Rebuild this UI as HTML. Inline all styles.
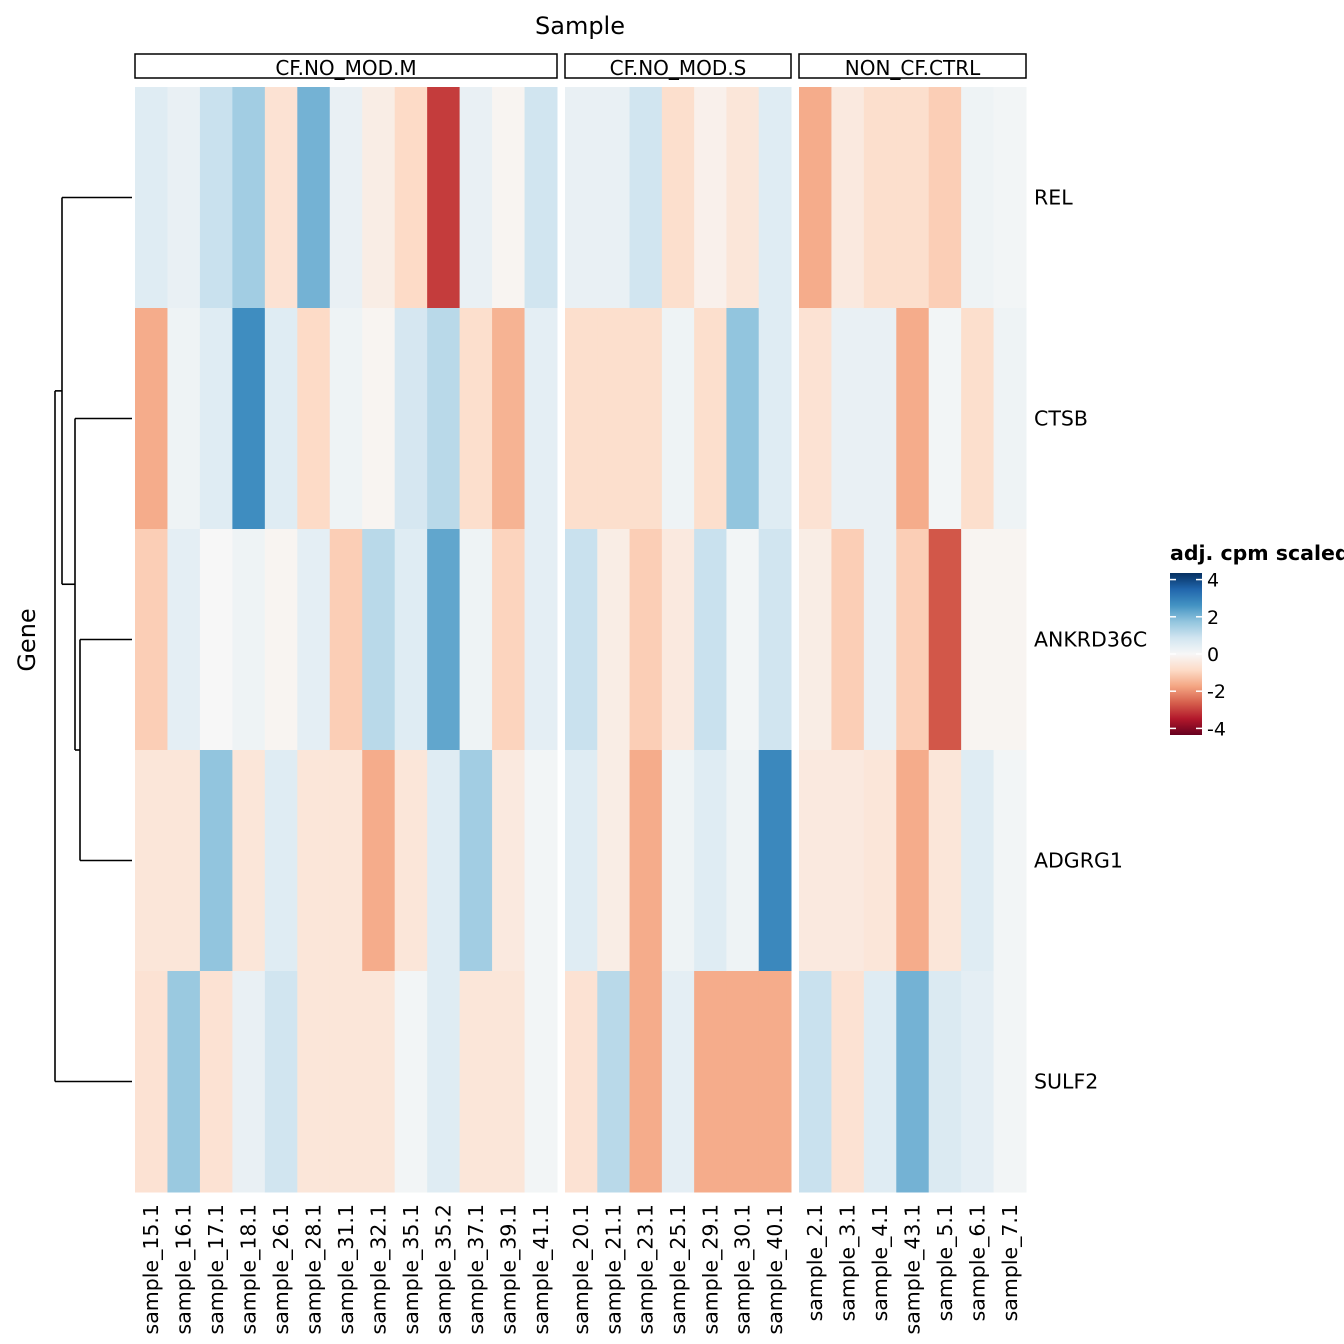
<!DOCTYPE html>
<html><head><meta charset="utf-8"><style>
html,body{margin:0;padding:0;background:#fff;}
svg{display:block;font-family:"DejaVu Sans","Liberation Sans",sans-serif;}
</style></head><body>
<svg id="c" width="1344" height="1344" viewBox="0 0 1344 1344">
<defs><linearGradient id="lg" x1="0" y1="1" x2="0" y2="0">
<stop offset="0" stop-color="#67001f"/><stop offset="0.1" stop-color="#b2182b"/><stop offset="0.2" stop-color="#d6604d"/><stop offset="0.3" stop-color="#f4a582"/><stop offset="0.4" stop-color="#fddbc7"/><stop offset="0.5" stop-color="#f7f7f7"/><stop offset="0.6" stop-color="#d1e5f0"/><stop offset="0.7" stop-color="#92c5de"/><stop offset="0.8" stop-color="#4393c3"/><stop offset="0.9" stop-color="#2166ac"/><stop offset="1" stop-color="#053061"/></linearGradient></defs>
<text x="580" y="34" font-size="24" text-anchor="middle">Sample</text>
<text x="35" y="640" font-size="24" text-anchor="middle" transform="rotate(-90 35 640)">Gene</text>
</svg>
<script>
const groups=["CF.NO_MOD.M","CF.NO_MOD.S","NON_CF.CTRL"];
const groupLabels=["CF.NO_MOD.M","CF.NO_MOD.S","NON_CF.CTRL"];
const samplesM=["sample_15.1","sample_16.1","sample_17.1","sample_18.1","sample_26.1","sample_28.1","sample_31.1","sample_32.1","sample_35.1","sample_35.2","sample_37.1","sample_39.1","sample_41.1"];
const samplesS=["sample_20.1","sample_21.1","sample_23.1","sample_25.1","sample_29.1","sample_30.1","sample_40.1"];
const samplesC=["sample_2.1","sample_3.1","sample_4.1","sample_43.1","sample_5.1","sample_6.1","sample_7.1"];
const genes=["REL","CTSB","ANKRD36C","ADGRG1","SULF2"];
const valuesM=[
[0.5,0.3,0.9,1.4,-0.6,1.9,0.3,-0.3,-0.8,-2.8,0.3,-0.1,0.8],
[-1.5,0.2,0.5,2.5,0.5,-0.8,0.2,-0.1,0.7,1.1,-0.7,-1.4,0.4],
[-1.0,0.4,0.0,0.2,-0.1,0.4,-1.0,1.1,0.5,2.1,0.2,-0.9,0.4],
[-0.5,-0.5,1.6,-0.5,0.5,-0.5,-0.5,-1.5,-0.5,0.5,1.4,-0.4,0.1],
[-0.6,1.5,-0.6,0.3,0.8,-0.5,-0.5,-0.5,0.1,0.5,-0.5,-0.5,0.1]];
const valuesS=[
[0.3,0.3,0.8,-0.7,-0.2,-0.5,0.5],
[-0.7,-0.7,-0.7,0.2,-0.7,1.6,0.5],
[0.9,-0.3,-1.0,-0.4,0.9,0.1,0.8],
[0.5,-0.3,-1.5,0.2,0.5,0.2,2.6],
[-0.6,1.1,-1.5,0.4,-1.5,-1.5,-1.5]];
const valuesC=[
[-1.5,-0.4,-0.7,-0.7,-1.0,0.2,0.1],
[-0.6,0.3,0.3,-1.5,0.1,-0.7,0.2],
[-0.3,-1.0,0.3,-1.0,-2.5,-0.1,-0.1],
[-0.4,-0.4,-0.5,-1.5,-0.5,0.5,0.1],
[0.9,-0.6,0.5,1.9,0.6,0.4,0.1]];
const legendTicks=[4,2,0,-2,-4];

const svg=document.getElementById('c');
const NS="http://www.w3.org/2000/svg";
function mk(t,a,txt){const e=document.createElementNS(NS,t);for(const k in a)e.setAttribute(k,a[k]);if(txt!=null)e.textContent=txt;svg.appendChild(e);return e;}
const stops=[[103,0,31],[178,24,43],[214,96,77],[244,165,130],[253,219,199],[247,247,247],[209,229,240],[146,197,222],[67,147,195],[33,102,172],[5,48,97]];
function color(v){let t=(Math.max(-4,Math.min(4,v))+4)/8*10;let i=Math.min(9,Math.floor(t));let f=t-i;const a=stops[i],b=stops[i+1];return`rgb(${a.map((x,j)=>Math.round(x+(b[j]-x)*f)).join(',')})`;}
const panels=[{x0:135,x1:557,s:samplesM,v:valuesM},{x0:565,x1:791,s:samplesS,v:valuesS},{x0:799,x1:1026,s:samplesC,v:valuesC}];
const yTop=87,yBot=1192,rh=(yBot-yTop)/genes.length;
function yRow(i){return yTop+i*rh;}
panels.forEach((p,pi)=>{
  const cw=(p.x1-p.x0)/p.s.length;
  const st=mk('rect',{x:p.x0,y:54,width:p.x1-p.x0,height:24,fill:'#fff',stroke:'#000','stroke-width':1.5});
  
  
  const sl=mk('text',{x:(p.x0+p.x1)/2,y:75,'font-size':20,'text-anchor':'middle'},groupLabels[pi]);
  
  
  p.s.forEach((s,ci)=>{
    const x=p.x0+ci*cw;
    genes.forEach((g,gi)=>{
      const r=mk('rect',{x:x,y:yRow(gi),width:cw+0.5,height:rh+0.5,fill:color(p.v[gi][ci])});
      
      
    });
    const cx=x+cw/2+7;
    const t=mk('text',{x:cx,y:1204,'font-size':20.5,'text-anchor':'end',transform:`rotate(-90 ${cx} 1204)`},s);
    
    
  });
});
genes.forEach((g,gi)=>{
  const t=mk('text',{x:1034,y:yRow(gi)+rh/2+7,'font-size':20.5},g);
  
  
});
const ly=genes.map((g,i)=>yRow(i)+rh/2);
const m34=(ly[2]+ly[3])/2, m234=(ly[1]+m34)/2, m1234=(ly[0]+m234)/2;
const dsegs=[[80,ly[2],132,ly[2]],[80,ly[3],132,ly[3]],[80,ly[2],80,ly[3]],
[75,ly[1],132,ly[1]],[75,m34,80,m34],[75,ly[1],75,m34],
[62,ly[0],132,ly[0]],[62,m234,75,m234],[62,ly[0],62,m234],
[55,m1234,62,m1234],[55,ly[4],132,ly[4]],[55,m1234,55,ly[4]]];
dsegs.forEach(d=>{const l=mk('line',{x1:d[0],y1:d[1],x2:d[2],y2:d[3],stroke:'#000','stroke-width':1.6});

});
const lt=mk('text',{x:1170,y:560,'font-size':20.5,'font-weight':'bold'},'adj. cpm scaled');


const lb=mk('rect',{x:1170,y:573,width:32,height:162,fill:'url(#lg)'});


function ly2(v){return 654-v*18.6;}
legendTicks.forEach(v=>{
  const y=ly2(v);
  mk('line',{x1:1170,y1:y,x2:1176,y2:y,stroke:'#fff','stroke-width':1.5});
  mk('line',{x1:1196,y1:y,x2:1202,y2:y,stroke:'#fff','stroke-width':1.5});
  const t=mk('text',{x:1207,y:y+7,'font-size':19},String(v));
  
  
});
</script>
</body></html>
